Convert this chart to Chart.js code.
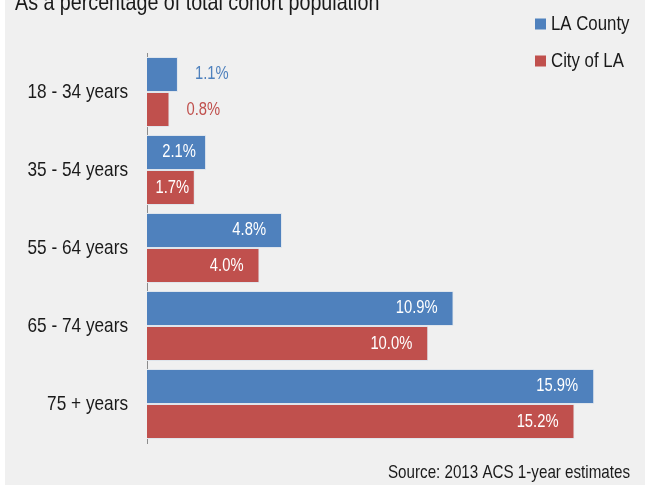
<!DOCTYPE html>
<html>
<head>
<meta charset="utf-8">
<script src="https://cdn.jsdelivr.net/npm/chart.js@4/dist/chart.umd.min.js"></script>
<style>
  html, body { margin: 0; padding: 0; background: #ffffff; }
  #panel { position: absolute; left: 5px; top: 0; width: 640px; height: 485px; background: #f0f0f0; }
</style>
</head>
<body>
<div id="panel"><canvas id="cohortChart"></canvas></div>
<script>
// Grupos de edad y porcentaje de la cohorte
const ageGroups = ['18 - 34 years', '35 - 54 years', '55 - 64 years', '65 - 74 years', '75 + years'];
const laCounty = [1.1, 2.1, 4.8, 10.9, 15.9];
const cityOfLA = [0.8, 1.7, 4.0, 10.0, 15.2];
const seriesNames = ['LA County', 'City of LA'];

const titleText = 'As a percentage of total cohort population';
const sourceText = 'Source: 2013 ACS 1-year estimates';

const FONT = "'Liberation Sans', Arial, sans-serif";
const NARROW = 0.82;   // estrechar el texto horizontalmente (tipo Arial Narrow)
const BLUE = '#4f81bd';
const RED = '#c0504d';
const INK = '#1a1a1a';

function narrowText(ctx, text, x, y, align) {
    ctx.save();
    ctx.translate(x, y);
    ctx.scale(NARROW, 1);
    ctx.textAlign = align;
    ctx.fillText(text, 0, 0);
    ctx.restore();
}

// Textos, leyenda, etiquetas de categoría y de valor
const decorations = {
    id: 'decorations',
    afterDatasetsDraw(chart) {
        const ctx = chart.ctx;
        const yScale = chart.scales.y;
        ctx.save();

        // etiquetas de categoría a la izquierda del eje
        ctx.font = '21px ' + FONT;
        ctx.fillStyle = INK;
        ctx.textBaseline = 'middle';
        yScale.ticks.forEach((t, i) => {
            narrowText(ctx, ageGroups[i], chart.chartArea.left - 19, yScale.getPixelForTick(i), 'right');
        });

        // etiquetas de valor al final de cada barra
        ctx.font = '18px ' + FONT;
        chart.data.datasets.forEach((ds, di) => {
            chart.getDatasetMeta(di).data.forEach((bar, i) => {
                const text = ds.data[i].toFixed(1) + '%';
                const tw = ctx.measureText(text).width * NARROW;
                const w = bar.x - bar.base;
                if (w - tw < 10) {
                    ctx.fillStyle = ds.backgroundColor;
                    narrowText(ctx, text, bar.x + 17, bar.y, 'left');
                } else {
                    const pad = Math.min(16, (w - tw) / 2.5);
                    ctx.fillStyle = '#ffffff';
                    narrowText(ctx, text, bar.x - pad, bar.y, 'right');
                }
            });
        });

        // título (cortado en el borde superior)
        ctx.fillStyle = INK;
        ctx.textBaseline = 'alphabetic';
        ctx.font = '24px ' + FONT;
        narrowText(ctx, titleText, 10, 10, 'left');

        // leyenda arriba a la derecha
        ctx.font = '20.5px ' + FONT;
        ctx.textBaseline = 'middle';
        chart.data.datasets.forEach((ds, di) => {
            const y = 24 + di * 37;
            ctx.fillStyle = ds.backgroundColor;
            ctx.fillRect(530, y - 5.5, 11, 11);
            ctx.fillStyle = INK;
            narrowText(ctx, ds.label, 546, y, 'left');
        });

        // fuente
        ctx.font = '18.5px ' + FONT;
        ctx.textBaseline = 'alphabetic';
        ctx.fillStyle = INK;
        narrowText(ctx, sourceText, 625, 478, 'right');

        ctx.restore();
    }
};

const ctx = document.getElementById('cohortChart').getContext('2d');

new Chart(ctx, {
    type: 'bar',
    data: {
        labels: ageGroups,
        datasets: [
            {
                label: seriesNames[0],
                data: laCounty,
                backgroundColor: BLUE,
                borderColor: '#dfe5ec',
                borderWidth: 1,
                borderSkipped: 'start'
            },
            {
                label: seriesNames[1],
                data: cityOfLA,
                backgroundColor: RED,
                borderColor: '#dfe5ec',
                borderWidth: 1,
                borderSkipped: 'start'
            }
        ]
    },
    options: {
        indexAxis: 'y',
        responsive: true,
        maintainAspectRatio: false,
        animation: false,
        layout: {
            padding: { top: 53, bottom: 42, right: 48, left: 0 }
        },
        datasets: {
            bar: { categoryPercentage: 0.9, barPercentage: 1.0 }
        },
        scales: {
            x: {
                display: false,
                min: 0,
                max: 16
            },
            y: {
                grid: { display: false, drawTicks: false },
                border: { display: true, color: '#8c8c8c', width: 1 },
                ticks: { display: false },
                afterFit(scale) { scale.width = 142; }
            }
        },
        plugins: {
            legend: { display: false },
            tooltip: { enabled: false }
        }
    },
    plugins: [decorations]
});
</script>
</body>
</html>
